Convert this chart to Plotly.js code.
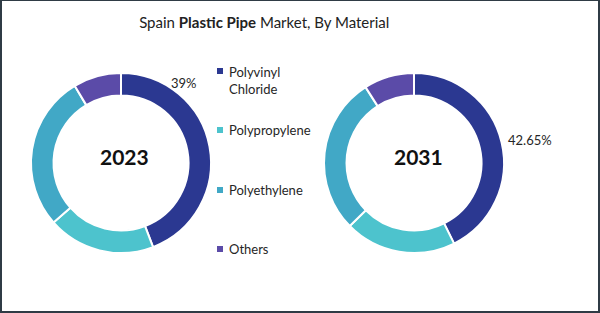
<!DOCTYPE html>
<html>
<head>
<meta charset="utf-8">
<script src="https://cdn.plot.ly/plotly-3.0.1.min.js"></script>
<style>
html,body{margin:0;padding:0;background:#fff;}
#chart{width:600px;height:313px;box-sizing:border-box;border:2px solid #2f3b45;border-top-width:1px;border-right-width:2px;}
</style>
</head>
<body>
<div id="chart"></div>
<script>
// Data
var materials = ["Polyvinyl Chloride", "Polypropylene", "Polyethylene", "Others"];
var legendLabels = ["Polyvinyl<br>Chloride", "Polypropylene", "Polyethylene", "Others"];
var years = ["2023", "2031"];
var values2023 = [44.2, 19.3, 27.9, 8.6];
var values2031 = [42.65, 20.0, 28.3, 9.05];
var shownLabel2023 = "39%";
var shownLabel2031 = "42.65%";
var colors = ["#2b3891", "#4dc3cd", "#41a8c6", "#5b4ba8"];

var W = 596, H = 310;
function px(x){return x / W;}
function py(y){return 1 - y / H;}

var common = {
  type: "pie",
  hole: 0.75,
  sort: false,
  direction: "clockwise",
  rotation: 0,
  textinfo: "none",
  hoverinfo: "label+percent",
  showlegend: false,
  labels: materials,
  marker: {colors: colors, line: {color: "#ffffff", width: 2}}
};

var t1 = Object.assign({}, common, {
  values: values2023,
  domain: {x: [px(29), px(209)], y: [py(252), py(72)]}
});
var t2 = Object.assign({}, common, {
  values: values2031,
  domain: {x: [px(322), px(502)], y: [py(252), py(72)]}
});

var font = "Lato, 'Open Sans', sans-serif";
function ann(text, x, y, size, color, anchor) {
  return {text: text, x: px(x), y: py(y), xref: "paper", yref: "paper",
    xanchor: anchor || "center", yanchor: "middle", align: "left", showarrow: false,
    font: {family: font, size: size, color: color}};
}
var annotations = [
  ann("<b>" + years[0] + "</b>", 122, 156, 21, "#111"),
  ann("<b>" + years[1] + "</b>", 416, 155, 21, "#111"),
  ann(shownLabel2023, 182, 82, 13, "#262626"),
  ann(shownLabel2031, 528, 139, 13, "#262626")
];
var shapes = [];
var legendY = [79, 129, 189, 248];
var legendSqY = [70, 129, 189, 248];
for (var i = 0; i < materials.length; i++) {
  var yy = legendSqY[i];
  shapes.push({type: "rect", xref: "paper", yref: "paper", x0: px(215), x1: px(221), y0: py(yy + 3), y1: py(yy - 3), fillcolor: colors[i], line: {width: 0}});
  annotations.push(ann(legendLabels[i], 225, legendY[i], 13, "#262626", "left"));
}

var layout = {
  width: W, height: H,
  margin: {l: 0, r: 0, t: 0, b: 0},
  paper_bgcolor: "#ffffff",
  title: {text: "Spain <b>Plastic Pipe</b> Market, By Material", x: 0.44, xanchor: "center", y: py(22), yanchor: "middle", yref: "paper", font: {family: font, size: 15, color: "#222"}},
  annotations: annotations,
  shapes: shapes,
  showlegend: false
};

Plotly.newPlot("chart", [t1, t2], layout, {displayModeBar: false, staticPlot: true});
</script>
</body>
</html>
